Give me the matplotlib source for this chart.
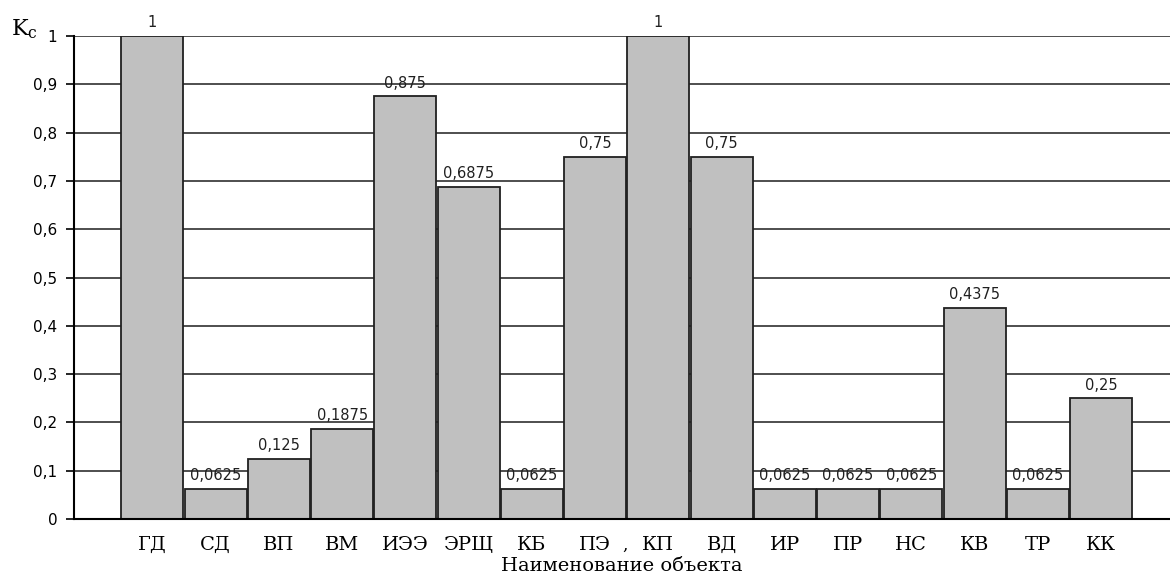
import numpy as np
import matplotlib
matplotlib.use('agg')
import matplotlib.pyplot as plt

# objects and their Kc coefficients
objects = ['ГД', 'СД', 'ВП', 'ВМ', 'ИЭЭ', 'ЭРЩ', 'КБ', 'ПЭ',
           'КП', 'ВД', 'ИР', 'ПР', 'НС', 'КВ', 'ТР', 'КК']
kc = [1, 0.0625, 0.125, 0.1875, 0.875, 0.6875, 0.0625, 0.75,
      1, 0.75, 0.0625, 0.0625, 0.0625, 0.4375, 0.0625, 0.25]
yticks = [0, 0.1, 0.2, 0.3, 0.4, 0.5, 0.6, 0.7, 0.8, 0.9, 1]

def comma(v):
    s = ('%g' % v)
    return s.replace('.', ',')

fig = plt.figure(figsize=(11.7, 5.8), dpi=100)
ax = fig.add_axes([0.0632, 0.105, 0.9368, 0.833])

x = np.arange(len(objects))
ax.set_axisbelow(True)
ax.grid(axis='y', color='#303030', lw=1.2)
bars = ax.bar(x, kc, width=0.98, color='#c0c0c0', edgecolor='#202020', lw=1.3, zorder=2)

for xi, v in zip(x, kc):
    ax.annotate(comma(v), (xi, v), xytext=(0, 4), textcoords='offset points',
                ha='center', va='bottom', fontsize=10.5, family='DejaVu Sans',
                color='#202020', zorder=3)

ax.set_xlim(-1.24, 16.09)
ax.set_ylim(0, 1)
ax.set_yticks(yticks)
ax.set_yticklabels([comma(v) for v in yticks], fontsize=11, family='DejaVu Sans')
ax.set_xticks(x)
ax.set_xticklabels(objects, fontsize=14, family='DejaVu Serif')
ax.tick_params(axis='x', length=0, pad=12)
ax.tick_params(axis='y', length=6, width=1.2, direction='out', pad=6)

for side in ['top', 'right']:
    ax.spines[side].set_visible(False)
ax.spines['left'].set_linewidth(1.5)
ax.spines['bottom'].set_linewidth(1.5)

# stray comma between ПЭ and КП on the category axis
ax.text(7.47, -0.055, ',', transform=ax.transData, ha='center', va='center',
        fontsize=12, family='DejaVu Serif')

ax.set_xlabel('Наименование объекта', fontsize=14, family='DejaVu Serif', labelpad=2)
fig.text(0.009, 0.95, r'$\mathrm{K_c}$', fontsize=16, va='center', ha='left',
         math_fontfamily='dejavuserif')

fig.savefig('out.png', dpi=100)
